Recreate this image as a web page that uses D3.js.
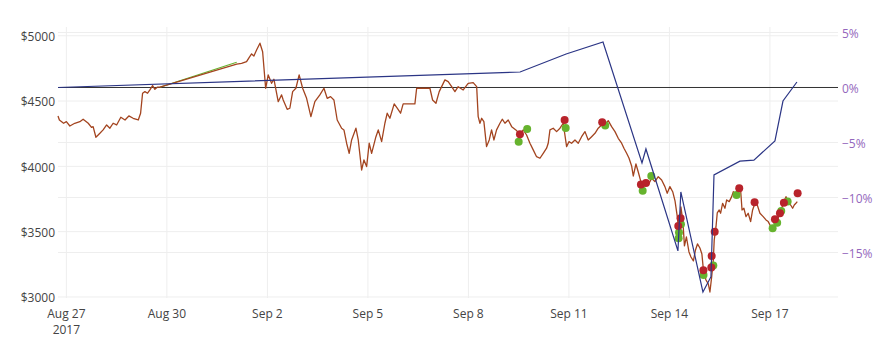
<!DOCTYPE html>
<html>
<head>
<meta charset="utf-8">
<script src="https://cdn.jsdelivr.net/npm/d3@7"></script>
<style>
  body { margin: 0; background: #fff; }
  text { font-family: "Open Sans", verdana, arial, sans-serif; font-size: 12px; }
</style>
</head>
<body>
<div id="chart"></div>
<script>
/* DATA (year 2017, "MM-DD HH:MM") */
// price line
const priceSeries = [
  ["08-26 18:00",4386],["08-26 19:00",4355],["08-26 22:00",4330],["08-27 00:00",4342],
  ["08-27 02:30",4309],["08-27 06:00",4330],["08-27 09:40",4342],["08-27 12:00",4361],
  ["08-27 15:40",4330],["08-27 18:00",4299],["08-27 19:10",4304],["08-27 21:10",4223],
  ["08-28 00:00",4253],["08-28 02:20",4279],["08-28 04:50",4317],["08-28 07:10",4292],
  ["08-28 09:30",4330],["08-28 12:00",4317],["08-28 15:00",4376],["08-28 18:00",4355],
  ["08-28 20:45",4386],["08-28 23:50",4368],["08-29 03:30",4355],["08-29 05:10",4407],
  ["08-29 06:35",4560],["08-29 08:15",4572],["08-29 10:10",4560],["08-29 11:50",4585],
  ["08-29 13:45",4618],["08-29 15:25",4590],["08-29 17:05",4606],["08-29 19:00",4606],
  ["09-01 02:00",4782],["09-01 05:30",4789],["09-01 09:05",4802],["09-01 11:00",4835],
  ["09-01 12:40",4861],["09-01 14:20",4845],["09-01 16:15",4891],["09-01 18:40",4943],
  ["09-01 20:35",4878],["09-01 22:45",4598],["09-02 00:35",4700],["09-02 03:00",4636],
  ["09-02 04:40",4667],["09-02 07:45",4495],["09-02 10:10",4547],["09-02 11:20",4508],
  ["09-02 14:10",4437],["09-02 16:05",4445],["09-02 18:05",4572],["09-02 20:25",4598],
  ["09-02 22:45",4700],["09-03 01:15",4598],["09-03 04:05",4521],["09-03 07:10",4381],
  ["09-03 10:00",4495],["09-03 13:35",4547],["09-03 16:30",4598],["09-03 18:50",4521],
  ["09-03 21:15",4534],["09-03 23:40",4508],["09-04 02:00",4355],["09-04 05:10",4292],
  ["09-04 06:50",4279],["09-04 08:45",4177],["09-04 10:35",4100],["09-04 12:20",4202],
  ["09-04 15:25",4292],["09-04 17:05",4202],["09-04 19:30",3972],["09-04 21:10",4049],
  ["09-04 23:05",3998],["09-05 00:55",4177],["09-05 02:40",4100],["09-05 05:45",4227],
  ["09-05 07:25",4279],["09-05 09:50",4189],["09-05 12:10",4330],["09-05 13:50",4407],
  ["09-05 15:45",4368],["09-05 18:50",4478],["09-05 21:00",4445],["09-05 23:25",4407],
  ["09-06 01:15",4478],["09-06 09:40",4478],["09-06 10:55",4598],["09-06 20:25",4598],
  ["09-06 22:20",4508],["09-07 00:45",4483],["09-07 03:05",4572],["09-07 07:10",4662],
  ["09-07 09:30",4649],["09-07 12:00",4610],["09-07 14:20",4572],["09-07 16:40",4610],
  ["09-07 20:15",4585],["09-07 23:50",4636],["09-08 03:25",4641],["09-08 05:55",4610],
  ["09-08 07:00",4381],["09-08 08:15",4330],["09-08 09:30",4368],["09-08 11:05",4342],
  ["09-08 13:00",4151],["09-08 14:55",4202],["09-08 16:35",4279],["09-08 18:15",4202],
  ["09-08 20:10",4279],["09-08 22:35",4330],["09-09 00:15",4361],["09-09 02:10",4330],
  ["09-09 04:30",4355],["09-09 07:00",4304],["09-09 10:00",4279],["09-09 12:55",4246],
  ["09-09 15:15",4279],["09-09 17:40",4240],["09-09 20:05",4177],["09-09 22:25",4126],
  ["09-10 00:50",4074],["09-10 03:15",4062],["09-10 05:35",4100],["09-10 08:00",4139],
  ["09-10 09:10",4177],["09-10 10:25",4279],["09-10 12:45",4292],["09-10 15:10",4266],
  ["09-10 17:35",4292],["09-10 19:55",4330],["09-10 22:20",4151],["09-11 00:00",4189],
  ["09-11 01:55",4177],["09-11 04:20",4202],["09-11 06:40",4177],["09-11 09:05",4227],
  ["09-11 11:30",4266],["09-11 13:50",4202],["09-11 16:15",4227],["09-11 18:40",4253],
  ["09-11 21:00",4292],["09-11 23:25",4317],["09-12 02:30",4330],["09-12 04:10",4350],
  ["09-12 06:35",4304],["09-12 09:00",4266],["09-12 11:20",4215],["09-12 13:45",4177],
  ["09-12 15:25",4139],["09-12 17:20",4100],["09-12 19:00",4064],["09-12 20:55",4003],
  ["09-12 22:05",3926],["09-13 00:00",4018],["09-13 01:40",3957],["09-13 03:35",3881],
  ["09-13 06:25",3871],["09-13 08:50",3858],["09-13 11:15",3909],["09-13 13:35",3883],
  ["09-13 16:00",3921],["09-13 18:25",3896],["09-13 20:45",3845],["09-13 22:25",3794],
  ["09-14 00:20",3845],["09-14 02:20",3806],["09-14 04:00",3735],["09-14 05:45",3605],
  ["09-14 06:50",3467],["09-14 08:15",3689],["09-14 09:40",3574],["09-14 10:45",3391],
  ["09-14 12:10",3459],["09-14 14:00",3345],["09-14 15:25",3306],["09-14 17:10",3276],
  ["09-14 18:40",3360],["09-14 20:05",3406],["09-14 21:50",3375],["09-14 23:15",3329],
  ["09-15 00:20",3207],["09-15 02:10",3130],["09-15 03:50",3100],["09-15 05:00",3038],
  ["09-15 06:15",3153],["09-15 07:25",3283],["09-15 08:05",3436],["09-15 09:20",3536],
  ["09-15 10:15",3643],["09-15 11:40",3666],["09-15 12:40",3641],["09-15 14:05",3717],
  ["09-15 15:45",3679],["09-15 17:00",3743],["09-15 18:50",3730],["09-15 20:35",3768],
  ["09-15 21:45",3806],["09-15 23:40",3794],["09-16 01:15",3845],["09-16 03:00",3819],
  ["09-16 04:00",3666],["09-16 05:20",3679],["09-16 06:50",3615],["09-16 08:25",3641],
  ["09-16 10:10",3577],["09-16 11:35",3666],["09-16 13:15",3717],["09-16 14:55",3704],
  ["09-16 16:50",3641],["09-16 19:10",3615],["09-16 21:10",3590],["09-16 22:45",3577],
  ["09-17 00:40",3538],["09-17 02:20",3526],["09-17 04:50",3577],["09-17 06:40",3628],
  ["09-17 08:25",3679],["09-17 10:00",3730],["09-17 11:30",3768],["09-17 13:05",3730],
  ["09-17 14:50",3704],["09-17 16:15",3679],["09-17 17:25",3704],["09-17 18:35",3717],
  ["09-17 19:35",3730]
];

// second (green) price line, visible only across the data gap
const gapSeries = [["08-29 19:00",4606],["09-01 02:00",4797]];

// green markers
const buyPoints = [
  ["09-09 12:00",4189],["09-09 18:05",4286],["09-10 21:40",4294],["09-12 02:00",4313],
  ["09-13 04:50",3814],["09-13 11:00",3926],["09-14 08:15",3557],["09-14 06:50",3494],
  ["09-14 06:35",3449],["09-15 00:25",3168],["09-15 07:25",3241],["09-16 00:05",3781],
  ["09-17 01:55",3526],["09-17 05:10",3569],["09-17 08:05",3658],["09-17 12:40",3730]
];

// red markers
const sellPoints = [
  ["09-09 12:55",4246],["09-10 20:55",4355],["09-11 23:50",4338],["09-13 03:35",3861],
  ["09-13 07:10",3873],["09-14 08:00",3603],["09-14 06:20",3544],["09-15 00:20",3205],
  ["09-15 06:15",3314],["09-15 06:00",3226],["09-15 08:25",3500],["09-16 02:00",3832],
  ["09-16 13:00",3725],["09-17 03:35",3595],["09-17 07:10",3641],["09-17 10:00",3722],
  ["09-17 19:50",3794]
];

// return line on the right axis (fraction)
const returnSeries = [
  ["08-26 18:00",0.000],["09-09 13:00",0.0141],["09-10 22:00",0.0305],["09-12 00:25",0.0414],
  ["09-13 04:20",-0.0686],["09-13 07:10",-0.0559],["09-14 06:05",-0.1486],["09-14 08:10",-0.0950],
  ["09-15 00:00",-0.1860],["09-15 05:45",-0.1720],["09-15 07:55",-0.0795],["09-16 02:30",-0.0670],
  ["09-16 12:30",-0.0660],["09-17 03:35",-0.0486],["09-17 09:20",-0.0123],["09-17 19:20",0.0050]
];

const priceTicks = [3000, 3500, 4000, 4500, 5000];
const returnTicks = [-0.15, -0.10, -0.05, 0, 0.05];
const dateTicks = ["08-27 00:00","08-30 00:00","09-02 00:00","09-05 00:00",
                   "09-08 00:00","09-11 00:00","09-14 00:00","09-17 00:00"];

/* CONSTANTS */
const width = 888, height = 355,
  margin = { top: 27, bottom: 57, left: 58, right: 50 };

const parse = d3.timeParse("%Y-%m-%d %H:%M");
const toDate = s => parse("2017-" + s);

const svg = d3.select("#chart").append("svg")
  .attr("width", width)
  .attr("height", height)
  .style("background", "#fff");

/* SCALES */
const xScale = d3.scaleTime()
  .domain([toDate("08-26 18:00"), toDate("09-19 00:45")])
  .range([margin.left, width - margin.right]);

const yScale = d3.scaleLinear()
  .domain([2992, 5067])
  .range([height - margin.bottom, margin.top]);

const y2Scale = d3.scaleLinear()
  .domain([-0.1914, 0.055])
  .range([height - margin.bottom, margin.top]);

/* GRID */
const grid = svg.append("g").attr("stroke", "#eee").attr("stroke-width", 1);

grid.selectAll(".vgrid")
  .data(dateTicks.map(toDate))
  .join("line")
  .attr("x1", d => xScale(d)).attr("x2", d => xScale(d))
  .attr("y1", margin.top).attr("y2", height - margin.bottom);

grid.selectAll(".hgrid")
  .data(priceTicks)
  .join("line")
  .attr("x1", margin.left).attr("x2", width - margin.right)
  .attr("y1", d => yScale(d)).attr("y2", d => yScale(d));

grid.selectAll(".hgrid2")
  .data(returnTicks.filter(d => d !== 0))
  .join("line")
  .attr("x1", margin.left).attr("x2", width - margin.right)
  .attr("y1", d => y2Scale(d)).attr("y2", d => y2Scale(d));

// zero line of the right axis
svg.append("line")
  .attr("x1", margin.left).attr("x2", width - margin.right)
  .attr("y1", y2Scale(0)).attr("y2", y2Scale(0))
  .attr("stroke", "#333").attr("stroke-width", 1);

/* AXES */
const yAxis = d3.axisLeft(yScale)
  .tickValues(priceTicks)
  .tickSize(0)
  .tickPadding(3)
  .tickFormat(d => "$" + d);

svg.append("g")
  .attr("transform", `translate(${margin.left},0)`)
  .call(yAxis)
  .call(g => g.select(".domain").remove())
  .call(g => g.selectAll("text").attr("fill", "#444").attr("dy", "0.4em")
    .style("font-family", '"Open Sans", verdana, arial, sans-serif').style("font-size", "12px"));

const y2Axis = d3.axisRight(y2Scale)
  .tickValues(returnTicks)
  .tickSize(0)
  .tickPadding(4)
  .tickFormat(d3.format(".0%"));

svg.append("g")
  .attr("transform", `translate(${width - margin.right},0)`)
  .call(y2Axis)
  .call(g => g.select(".domain").remove())
  .call(g => g.selectAll("text").attr("fill", "#9467bd").attr("dy", "0.4em")
    .style("font-family", '"Open Sans", verdana, arial, sans-serif').style("font-size", "12px"));

const fmtDay = d3.timeFormat("%b %-d");
const xLabels = svg.append("g").attr("fill", "#444").attr("text-anchor", "middle");
xLabels.selectAll("text.day")
  .data(dateTicks.map(toDate))
  .join("text")
  .attr("class", "day")
  .attr("x", d => xScale(d))
  .attr("y", 318)
  .text(d => fmtDay(d));
xLabels.append("text")
  .attr("x", xScale(toDate(dateTicks[0])))
  .attr("y", 334)
  .text("2017");

/* LINES */
const priceLine = d3.line()
  .x(d => xScale(toDate(d[0])))
  .y(d => yScale(d[1]));

svg.append("path")
  .datum(gapSeries)
  .attr("d", priceLine)
  .attr("fill", "none")
  .attr("stroke", "#66b32e")
  .attr("stroke-width", 1.2);

svg.append("path")
  .datum(priceSeries)
  .attr("d", priceLine)
  .attr("fill", "none")
  .attr("stroke", "#a3441f")
  .attr("stroke-width", 1.3)
  .attr("stroke-linejoin", "round");

/* MARKERS */
svg.append("g").selectAll("circle")
  .data(buyPoints)
  .join("circle")
  .attr("cx", d => xScale(toDate(d[0])))
  .attr("cy", d => yScale(d[1]))
  .attr("r", 4)
  .attr("fill", "#66b32e");

svg.append("g").selectAll("circle")
  .data(sellPoints)
  .join("circle")
  .attr("cx", d => xScale(toDate(d[0])))
  .attr("cy", d => yScale(d[1]))
  .attr("r", 4)
  .attr("fill", "#b8232b");

/* RETURN LINE */
const returnLine = d3.line()
  .x(d => xScale(toDate(d[0])))
  .y(d => y2Scale(d[1]));

svg.append("path")
  .datum(returnSeries)
  .attr("d", returnLine)
  .attr("fill", "none")
  .attr("stroke", "#2b3585")
  .attr("stroke-width", 1.2);
</script>
</body>
</html>
